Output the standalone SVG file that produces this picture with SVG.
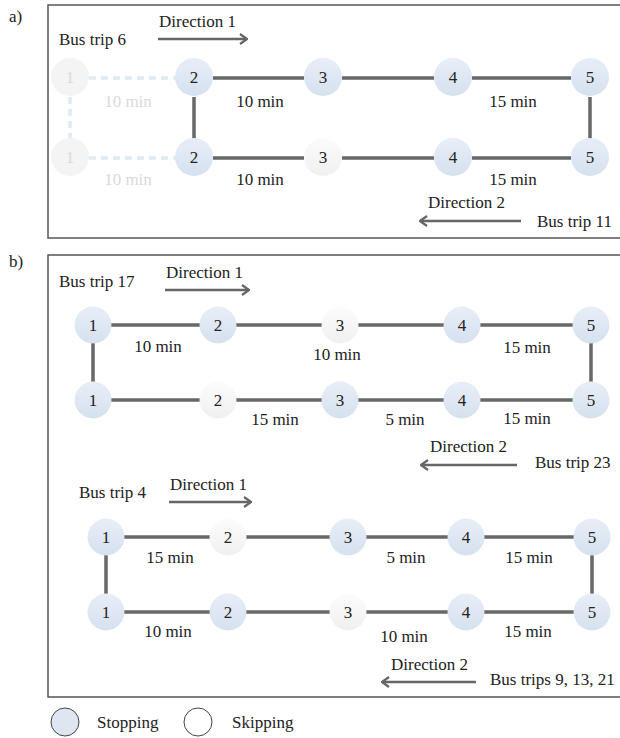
<svg xmlns="http://www.w3.org/2000/svg" width="620" height="738" viewBox="0 0 620 738" font-family="'Liberation Serif', 'DejaVu Serif', serif">
<defs>
<linearGradient id="gStop" x1="0" y1="0" x2="0" y2="1">
<stop offset="0" stop-color="#e7eef7"/>
<stop offset="1" stop-color="#d6e1ef"/>
</linearGradient>
<linearGradient id="gSkip" x1="0" y1="0" x2="0" y2="1">
<stop offset="0" stop-color="#fcfcfc"/>
<stop offset="1" stop-color="#f0f0f0"/>
</linearGradient>
<marker id="ah" viewBox="0 0 10 12" refX="9" refY="6" markerWidth="10" markerHeight="12" markerUnits="userSpaceOnUse" orient="auto-start-reverse">
<path d="M2,1 L9,6 L2,11" fill="none" stroke="#666" stroke-width="2.2"/>
</marker>
<style>
text{font-family:'Liberation Serif','DejaVu Serif',serif;font-size:17px;fill:#222}
.num{text-anchor:middle}
.lbl{text-anchor:middle}
.faded{fill:#dadada}
.stop{fill:url(#gStop)}
.skip{fill:url(#gSkip)}
.fade{fill:#f4f4f4}
.edge{stroke:#686868;stroke-width:3.5;fill:none}
.dash{stroke:#e1e9f3;stroke-width:3.5;fill:none;stroke-dasharray:7,5}
.arrow{stroke:#666;stroke-width:2.5;fill:none}
.box{fill:none;stroke:#555;stroke-width:1.5}
</style>
</defs>
<rect width="620" height="738" fill="#fff"/>

<!-- panel frames -->
<text x="9" y="22">a)</text>
<rect class="box" x="48" y="5" width="590" height="233"/>
<text x="9" y="267">b)</text>
<rect class="box" x="48" y="255" width="590" height="442"/>

<g id="connectors">
<!-- a) -->
<path class="dash" d="M89,78 H175 M70,97 V139 M89,158 H175"/>
<path class="edge" d="M213,78 H304 M342,78 H434 M472,78 H571 M590,97 V139 M213,158 H304 M342,158 H434 M472,158 H571 M194,97 V139"/>
<path class="arrow" d="M158,39 H247" marker-end="url(#ah)"/>
<path class="arrow" d="M521,221 H420" marker-end="url(#ah)"/>
<!-- b) trip 17 -->
<path class="edge" d="M111,325 H200 M236,325 H322 M358,325 H444 M480,325 H573 M591,343 V382 M111,400 H200 M236,400 H322 M358,400 H444 M480,400 H573 M93,343 V382"/>
<path class="arrow" d="M165,290 H249" marker-end="url(#ah)"/>
<path class="arrow" d="M517,465 H421" marker-end="url(#ah)"/>
<!-- b) trip 4 -->
<path class="edge" d="M124,537 H210 M246,537 H330 M366,537 H448 M484,537 H574 M592,555 V594 M124,612 H210 M246,612 H330 M366,612 H448 M484,612 H574 M106,555 V594"/>
<path class="arrow" d="M169,502 H251" marker-end="url(#ah)"/>
<path class="arrow" d="M476,682 H382" marker-end="url(#ah)"/>
</g>

<!-- a) nodes -->
<g id="a-top-1"><circle class="fade" cx="70" cy="77" r="19"/><text class="num faded" x="70" y="83">1</text></g>
<g id="a-top-2"><circle class="stop" cx="194" cy="77" r="19"/><text class="num" x="194" y="83">2</text></g>
<g id="a-top-3"><circle class="stop" cx="323" cy="77" r="19"/><text class="num" x="323" y="83">3</text></g>
<g id="a-top-4"><circle class="stop" cx="453" cy="77" r="19"/><text class="num" x="453" y="83">4</text></g>
<g id="a-top-5"><circle class="stop" cx="590" cy="77" r="19"/><text class="num" x="590" y="83">5</text></g>
<g id="a-bot-1"><circle class="fade" cx="70" cy="157" r="19"/><text class="num faded" x="70" y="163">1</text></g>
<g id="a-bot-2"><circle class="stop" cx="194" cy="157" r="19"/><text class="num" x="194" y="163">2</text></g>
<g id="a-bot-3"><circle class="skip" cx="323" cy="157" r="19"/><text class="num" x="323" y="163">3</text></g>
<g id="a-bot-4"><circle class="stop" cx="453" cy="157" r="19"/><text class="num" x="453" y="163">4</text></g>
<g id="a-bot-5"><circle class="stop" cx="590" cy="157" r="19"/><text class="num" x="590" y="163">5</text></g>

<g id="a-labels">
<text x="59" y="45">Bus trip 6</text>
<text x="159" y="27">Direction 1</text>
<text class="lbl faded" x="128" y="107">10 min</text>
<text class="lbl" x="260" y="107">10 min</text>
<text class="lbl" x="513" y="107">15 min</text>
<text class="lbl faded" x="128" y="185">10 min</text>
<text class="lbl" x="260" y="185">10 min</text>
<text class="lbl" x="513" y="185">15 min</text>
<text x="428" y="208">Direction 2</text>
<text x="537" y="227">Bus trip 11</text>
</g>

<!-- b) trip 17 nodes -->
<g id="b17-top-1"><circle class="stop" cx="93" cy="325" r="18.5"/><text class="num" x="93" y="331">1</text></g>
<g id="b17-top-2"><circle class="stop" cx="218" cy="325" r="18.5"/><text class="num" x="218" y="331">2</text></g>
<g id="b17-top-3"><circle class="skip" cx="340" cy="325" r="18.5"/><text class="num" x="340" y="331">3</text></g>
<g id="b17-top-4"><circle class="stop" cx="462" cy="325" r="18.5"/><text class="num" x="462" y="331">4</text></g>
<g id="b17-top-5"><circle class="stop" cx="591" cy="325" r="18.5"/><text class="num" x="591" y="331">5</text></g>
<g id="b17-bot-1"><circle class="stop" cx="93" cy="400" r="18.5"/><text class="num" x="93" y="406">1</text></g>
<g id="b17-bot-2"><circle class="skip" cx="218" cy="400" r="18.5"/><text class="num" x="218" y="406">2</text></g>
<g id="b17-bot-3"><circle class="stop" cx="340" cy="400" r="18.5"/><text class="num" x="340" y="406">3</text></g>
<g id="b17-bot-4"><circle class="stop" cx="462" cy="400" r="18.5"/><text class="num" x="462" y="406">4</text></g>
<g id="b17-bot-5"><circle class="stop" cx="591" cy="400" r="18.5"/><text class="num" x="591" y="406">5</text></g>

<g id="b17-labels">
<text x="59" y="287">Bus trip 17</text>
<text x="166" y="278">Direction 1</text>
<text class="lbl" x="158" y="352">10 min</text>
<text class="lbl" x="337" y="360">10 min</text>
<text class="lbl" x="527" y="353">15 min</text>
<text class="lbl" x="275" y="425">15 min</text>
<text class="lbl" x="405" y="425">5 min</text>
<text class="lbl" x="527" y="424">15 min</text>
<text x="430" y="452">Direction 2</text>
<text x="535" y="468">Bus trip 23</text>
</g>

<!-- b) trip 4 nodes -->
<g id="b4-top-1"><circle class="stop" cx="106" cy="537" r="18.5"/><text class="num" x="106" y="543">1</text></g>
<g id="b4-top-2"><circle class="skip" cx="228" cy="537" r="18.5"/><text class="num" x="228" y="543">2</text></g>
<g id="b4-top-3"><circle class="stop" cx="348" cy="537" r="18.5"/><text class="num" x="348" y="543">3</text></g>
<g id="b4-top-4"><circle class="stop" cx="466" cy="537" r="18.5"/><text class="num" x="466" y="543">4</text></g>
<g id="b4-top-5"><circle class="stop" cx="592" cy="537" r="18.5"/><text class="num" x="592" y="543">5</text></g>
<g id="b4-bot-1"><circle class="stop" cx="106" cy="612" r="18.5"/><text class="num" x="106" y="618">1</text></g>
<g id="b4-bot-2"><circle class="stop" cx="228" cy="612" r="18.5"/><text class="num" x="228" y="618">2</text></g>
<g id="b4-bot-3"><circle class="skip" cx="348" cy="612" r="18.5"/><text class="num" x="348" y="618">3</text></g>
<g id="b4-bot-4"><circle class="stop" cx="466" cy="612" r="18.5"/><text class="num" x="466" y="618">4</text></g>
<g id="b4-bot-5"><circle class="stop" cx="592" cy="612" r="18.5"/><text class="num" x="592" y="618">5</text></g>

<g id="b4-labels">
<text x="79" y="498">Bus trip 4</text>
<text x="170" y="490">Direction 1</text>
<text class="lbl" x="170" y="563">15 min</text>
<text class="lbl" x="406" y="563">5 min</text>
<text class="lbl" x="529" y="563">15 min</text>
<text class="lbl" x="168" y="637">10 min</text>
<text class="lbl" x="404" y="642">10 min</text>
<text class="lbl" x="528" y="637">15 min</text>
<text x="391" y="670">Direction 2</text>
<text x="490" y="685">Bus trips 9, 13, 21</text>
</g>

<g id="legend">
<circle cx="65" cy="722" r="14" fill="#dde6f1" stroke="#444" stroke-width="1"/>
<text x="97" y="728">Stopping</text>
<circle cx="198" cy="722" r="14" fill="#fff" stroke="#444" stroke-width="1"/>
<text x="232" y="728">Skipping</text>
</g>
</svg>
